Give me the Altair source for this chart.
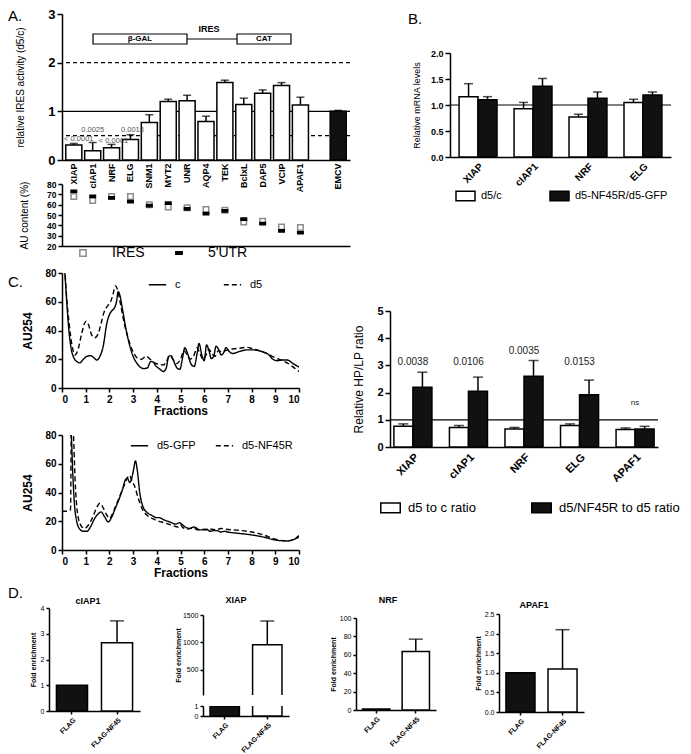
import altair as alt
import pandas as pd

FONT = "Liberation Sans"
BOX = "M-1,-0.5H1V0.5H-1Z"
DASH = "M-1,-0.4H1V0.4H-1Z"

# ---------------- Panel A : relative IRES activity ----------------
genes_a = ["XIAP", "cIAP1", "NRF", "ELG", "SNM1", "MYT2", "UNR", "AQP4", "TEK",
           "BclxL", "DAP5", "VCIP", "APAF1", "EMCV"]
ires_activity = [0.31, 0.19, 0.25, 0.42, 0.77, 1.20, 1.22, 0.79, 1.59, 1.14, 1.37, 1.53, 1.13, 1.00]
ires_err_top = [0.34, 0.36, 0.32, 0.52, 0.93, 1.25, 1.33, 0.90, 1.64, 1.27, 1.44, 1.59, 1.29, 1.02]
pval_genes_a = ["XIAP", "cIAP1", "NRF", "ELG"]
pval_labels_a = ["< 0.0001", "0.0025", "< 0.0001", "0.0018"]
pval_y_a = [0.43, 0.62, 0.40, 0.62]

# ---------------- Panel A : AU content ----------------
au_genes = genes_a[:13]
au_types = ["IRES", "5'UTR"]
au_ires = [68, 64, 68, 68, 60, 57.7, 57, 55.4, 54.5, 43.3, 44, 38.5, 38]
au_utr = [73, 68, 66.6, 63, 59, 61.5, 56, 51.3, 54, 46, 41.7, 34.7, 32.8]

# ---------------- Panel B : relative mRNA levels ----------------
genes_b = ["XIAP", "cIAP1", "NRF", "ELG"]
series_b = ["d5/c", "d5-NF45R/d5-GFP"]
mrna_d5c = [1.16, 0.93, 0.77, 1.05]
mrna_d5c_err = [1.41, 1.05, 0.82, 1.11]
mrna_nf = [1.10, 1.36, 1.13, 1.19]
mrna_nf_err = [1.16, 1.51, 1.25, 1.25]

# ---------------- Panel C : polysome profiles (fraction, AU254) ----------------
series_top = ["c", "d5"]
prof_c = [(0.05, 95), (0.12, 80), (0.2, 60), (0.28, 42), (0.38, 28), (0.5, 21), (0.62, 18.5), (0.75, 17.5),
          (0.9, 20), (1.05, 22), (1.2, 22.5), (1.35, 21), (1.47, 19.5), (1.6, 22), (1.75, 30), (1.88, 44),
          (2.0, 51), (2.12, 54), (2.22, 56), (2.3, 60), (2.37, 67), (2.45, 64), (2.55, 55), (2.7, 41),
          (2.85, 30), (3.0, 22), (3.15, 17.5), (3.3, 14.5), (3.45, 13.5), (3.6, 14), (3.75, 18.5), (3.85, 18),
          (3.95, 15.5), (4.1, 13.5), (4.28, 11.5), (4.4, 14), (4.5, 22), (4.6, 22.5), (4.72, 18.5), (4.85, 14),
          (4.97, 13), (5.1, 22), (5.18, 28), (5.3, 24), (5.45, 16.5), (5.58, 15), (5.7, 24), (5.78, 31),
          (5.9, 23), (6.0, 19), (6.1, 30), (6.2, 26), (6.3, 20.5), (6.4, 22), (6.5, 29), (6.6, 27),
          (6.72, 23), (6.82, 24.5), (6.92, 28), (7.05, 25.5), (7.2, 24), (7.5, 25.5), (7.8, 26.5),
          (8.1, 26.5), (8.4, 25.5), (8.7, 23.5), (8.9, 20), (9.1, 19), (9.3, 19.5), (9.5, 19.5),
          (9.75, 17), (10.0, 14.5)]
prof_d5 = [(0.05, 95), (0.12, 82), (0.2, 62), (0.3, 45), (0.42, 30), (0.55, 23), (0.68, 27), (0.82, 37),
           (0.95, 45), (1.02, 46.5), (1.12, 44), (1.25, 37), (1.38, 35), (1.52, 37.5), (1.65, 45), (1.78, 53),
           (1.92, 57), (2.05, 60), (2.15, 65), (2.25, 71), (2.33, 69), (2.45, 60), (2.6, 47), (2.75, 37),
           (2.9, 29), (3.05, 23.5), (3.2, 20.5), (3.35, 20), (3.55, 22), (3.72, 20), (3.9, 17.5), (4.1, 16.5),
           (4.28, 16), (4.42, 19), (4.55, 22.5), (4.7, 19.5), (4.85, 17), (5.0, 20), (5.15, 26), (5.28, 23),
           (5.4, 20), (5.55, 22), (5.7, 28), (5.82, 24), (5.95, 20), (6.08, 23), (6.2, 27), (6.32, 24),
           (6.45, 22), (6.6, 26), (6.75, 25), (6.9, 26), (7.1, 27), (7.4, 27.5), (7.8, 28.3), (8.1, 27),
           (8.4, 25.5), (8.7, 23.5), (9.0, 21), (9.3, 19), (9.6, 16.5), (9.8, 14), (10.0, 11.5)]
series_bot = ["d5-GFP", "d5-NF45R"]
prof_gfp = [(0.3, 95), (0.38, 85), (0.45, 55), (0.52, 33), (0.62, 20), (0.75, 14.5), (0.9, 13), (1.05, 13),
            (1.2, 16), (1.38, 22), (1.52, 25), (1.65, 26.5), (1.8, 23), (1.95, 19.5), (2.1, 23), (2.25, 29),
            (2.4, 35), (2.55, 42), (2.68, 49), (2.76, 50), (2.85, 47), (2.93, 49), (3.02, 56), (3.1, 62),
            (3.18, 55), (3.28, 40), (3.42, 30), (3.6, 26), (3.8, 24), (4.0, 22.5), (4.1, 22.5), (4.3, 21),
            (4.55, 19.5), (4.8, 18), (4.95, 19), (5.05, 18), (5.2, 16), (5.4, 15), (5.55, 16), (5.65, 15.5),
            (5.8, 14), (5.95, 14), (6.1, 14.5), (6.25, 13), (6.4, 13.5), (6.55, 13.5), (6.7, 12.5),
            (6.85, 13), (7.0, 12.5), (7.5, 11.5), (8.0, 10.5), (8.5, 9), (9.0, 7), (9.5, 6.3), (9.8, 7.5),
            (10.0, 9)]
prof_nf45r = [(0.0, 27), (0.2, 27), (0.36, 28), (0.4, 95), (0.48, 82), (0.55, 50), (0.65, 26), (0.8, 17),
              (0.95, 15), (1.1, 17), (1.3, 23), (1.45, 29), (1.6, 32.5), (1.75, 29), (1.9, 24), (2.0, 22),
              (2.2, 28), (2.4, 36), (2.6, 44), (2.75, 50), (2.85, 52), (2.95, 48), (3.05, 45), (3.2, 37),
              (3.4, 28), (3.6, 24), (3.8, 22), (4.0, 20.5), (4.3, 19), (4.6, 17.5), (4.9, 16), (5.0, 17.5),
              (5.1, 15.5), (5.3, 14.5), (5.55, 15.5), (5.7, 14), (5.9, 14.5), (6.1, 14), (6.3, 14.5),
              (6.5, 14), (6.7, 15), (6.9, 14.5), (7.2, 14), (7.6, 13.5), (8.0, 12.5), (8.5, 10.5), (9.0, 7.5),
              (9.5, 6.3), (9.8, 7.5), (10.0, 10)]

# ---------------- Panel C : relative HP/LP ratio ----------------
genes_c = ["XIAP", "cIAP1", "NRF", "ELG", "APAF1"]
series_c = ["d5 to c ratio", "d5/NF45R to d5 ratio"]
hplp_d5c = [0.76, 0.72, 0.66, 0.79, 0.64]
hplp_d5c_err = [0.85, 0.79, 0.72, 0.85, 0.70]
hplp_nf = [2.20, 2.05, 2.60, 1.92, 0.66]
hplp_nf_err = [2.75, 2.57, 3.18, 2.46, 0.76]
pval_labels_c = ["0.0038", "0.0106", "0.0035", "0.0153", "ns"]
pval_y_c = [3.12, 3.12, 3.53, 3.12, 1.62]

# ---------------- Panel D : fold enrichment ----------------
conds = ["FLAG", "FLAG-NF45"]
d_titles = ["cIAP1", "XIAP", "NRF", "APAF1"]
ciap1_fold = [1.0, 2.65]
ciap1_err = [None, 3.5]
xiap_fold = [1.0, 960.0]
xiap_err = [None, 1390.0]
nrf_fold = [1.0, 63.5]
nrf_err = [None, 77.0]
apaf1_fold = [1.0, 1.1]
apaf1_err = [None, 2.1]

one = pd.DataFrame({"k": [0]})


def indep(c):
    return c.resolve_scale(fill="independent", stroke="independent", shape="independent",
                           strokeDash="independent", xOffset="independent").resolve_legend(
        fill="independent", stroke="independent", shape="independent", strokeDash="independent")


def V(*charts, **kw):
    return indep(alt.vconcat(*charts, **kw))


def H(*charts, **kw):
    return indep(alt.hconcat(*charts, **kw))


def label(txt, x, y, size=15, color="black", weight="normal", align="left", baseline="top"):
    return alt.Chart(one).mark_text(text=txt, fontSize=size, color=color, fontWeight=weight,
                                    align=align, baseline=baseline).encode(x=alt.value(x), y=alt.value(y))


def spacer(w, h, texts=()):
    layers = [alt.Chart(one).mark_point(opacity=0, size=1).encode(x=alt.value(w / 2), y=alt.value(h / 2))]
    layers += list(texts)
    return alt.layer(*layers).properties(width=w, height=h)


# ======================= Panel A top =======================
slot_a = genes_a[:13] + [" "] + genes_a[13:]
band_a = alt.Scale(type="band", domain=slot_a, paddingInner=0.15, paddingOuter=0.2)
xa_axis = alt.Axis(title=None, labelAngle=-90, labelFontSize=9, labelFontWeight="bold", ticks=False,
                   labelPadding=3)
ax_a = alt.Axis(values=[0, 1, 2, 3], title="relative IRES activity (d5/c)", titleFontSize=10,
                titleFontWeight="normal", labelFontSize=13, labelFontWeight="bold", tickSize=5,
                labelPadding=2, titlePadding=22)


def ya(f):
    return alt.Y(f + ":Q", scale=alt.Scale(domain=[0, 3], nice=False), axis=ax_a)


xa = alt.X("gene:N", scale=band_a, axis=xa_axis)
df_a = pd.DataFrame({"gene": genes_a, "value": ires_activity, "err": ires_err_top})
rule1_a = alt.Chart(pd.DataFrame({"value": [1.0]})).mark_rule(color="black", strokeWidth=1.2).encode(y=ya("value"))
rules_dash_a = alt.Chart(pd.DataFrame({"value": [2.0, 0.5]})).mark_rule(
    color="black", strokeWidth=1.2, strokeDash=[4, 3]).encode(y=ya("value"))
bars_a = alt.Chart(df_a).mark_bar(stroke="black", strokeWidth=1.5).encode(
    x=xa, y=ya("value"),
    fill=alt.condition(alt.datum.gene == "EMCV", alt.value("#111"), alt.value("white")))
err_a = alt.Chart(df_a).mark_rule(color="black", strokeWidth=1.5).encode(x=xa, y=ya("value"), y2="err:Q")
cap_a = alt.Chart(df_a).mark_tick(orient="horizontal", color="black", thickness=1.5, size=8).encode(
    x=xa, y=ya("err"))
df_pa = pd.DataFrame({"gene": pval_genes_a, "label": pval_labels_a, "y": pval_y_a})
pv_a = []
for g, dx in [("XIAP", 5), ("cIAP1", 0), ("NRF", 2), ("ELG", 2)]:
    pv_a.append(alt.Chart(df_pa).transform_filter(alt.datum.gene == g).mark_text(
        fontSize=7.5, color="#555", dx=dx).encode(x=xa, y=ya("y"), text="label:N"))


def deco_rect(x1, x2, y1, y2):
    return alt.Chart(one).mark_rect(fill="white", stroke="black", strokeWidth=1.2).encode(
        x=alt.value(x1), x2=alt.value(x2), y=alt.value(y1), y2=alt.value(y2))


schematic = [
    alt.Chart(one).mark_rule(color="black", strokeWidth=1.2).encode(
        x=alt.value(125), x2=alt.value(175), y=alt.value(25)),
    deco_rect(31, 125, 20, 30), deco_rect(175, 229, 20, 30),
    label("β-GAL", 78, 25, size=8, weight="bold", align="center", baseline="middle"),
    label("CAT", 202, 25, size=8, weight="bold", align="center", baseline="middle"),
    label("IRES", 147, 15, size=9, weight="bold", align="center", baseline="middle"),
]
a_top = alt.layer(rule1_a, rules_dash_a, bars_a, err_a, cap_a, *pv_a, *schematic,
                  label("A.", -54, -5)).properties(width=288, height=146)

# ======================= Panel A bottom (AU content) =======================
df_au = pd.DataFrame({"gene": au_genes * 2,
                      "type": [au_types[0]] * len(au_genes) + [au_types[1]] * len(au_genes),
                      "value": au_ires + au_utr})
leg_au = alt.Legend(orient="none", legendX=14, legendY=62, direction="horizontal", title=None,
                    labelFontSize=14, labelOffset=22, columnPadding=27, symbolSize=40,
                    symbolStrokeWidth=1.5)
a_bot = alt.Chart(df_au).mark_point(filled=True, size=30, strokeWidth=1.5, opacity=1).encode(
    x=alt.X("gene:N", scale=band_a, axis=alt.Axis(title=None, labels=False, ticks=False)),
    y=alt.Y("value:Q", scale=alt.Scale(domain=[20, 80], nice=False, zero=False),
            axis=alt.Axis(values=[20, 30, 40, 50, 60, 70, 80], title="AU content (%)", titleFontSize=10,
                          titleFontWeight="normal", labelFontSize=8.5, labelFontWeight="bold", tickSize=4,
                          labelPadding=2, titlePadding=17)),
    shape=alt.Shape("type:N", scale=alt.Scale(domain=au_types, range=["square", DASH]), legend=leg_au),
    fill=alt.Fill("type:N", scale=alt.Scale(domain=au_types, range=["white", "black"]), legend=leg_au),
    stroke=alt.Stroke("type:N", scale=alt.Scale(domain=au_types, range=["#8c8c8c", "black"]), legend=leg_au),
).properties(width=288, height=62)

panel_a = V(a_top, a_bot, spacing=24, bounds="flush")


# ======================= grouped bar helper =======================
def grouped(genes, series, v1, e1, v2, e2, ydom, yvals, yfmt, yaxis_kw, xlab_kw, pin, pout, legend, cap):
    n = len(genes)
    df = pd.DataFrame({"gene": genes * 2, "series": [series[0]] * n + [series[1]] * n,
                       "value": v1 + v2, "err": e1 + e2})
    xs = alt.X("gene:N", scale=alt.Scale(domain=genes, paddingInner=pin, paddingOuter=pout),
               axis=alt.Axis(title=None, labelAngle=-45, ticks=False, **xlab_kw))
    xo = alt.XOffset("series:N", scale=alt.Scale(domain=series, paddingInner=0, paddingOuter=0))
    yax = alt.Axis(values=yvals, format=yfmt, **yaxis_kw)

    def ys(f):
        return alt.Y(f + ":Q", scale=alt.Scale(domain=ydom, nice=False), axis=yax)

    line1 = alt.Chart(pd.DataFrame({"value": [1.0]})).mark_rule(color="black", strokeWidth=1.2).encode(
        y=ys("value"))
    bars = alt.Chart(df).mark_bar(stroke="black", strokeWidth=1.5).encode(
        x=xs, xOffset=xo, y=ys("value"),
        fill=alt.Fill("series:N", scale=alt.Scale(domain=series, range=["white", "#111"]), legend=legend))
    err = alt.Chart(df).mark_rule(color="black", strokeWidth=1.5).encode(
        x=xs, xOffset=xo, y=ys("value"), y2="err:Q")
    caps = alt.Chart(df).mark_tick(orient="horizontal", color="black", thickness=1.5, size=cap).encode(
        x=xs, xOffset=xo, y=ys("err"))
    return xs, ys, [line1, bars, err, caps]


# ======================= Panel B =======================
leg_b = alt.Legend(orient="none", legendX=5, legendY=132, direction="horizontal", title=None,
                   symbolType=BOX, symbolSize=361, symbolStrokeColor="black", symbolStrokeWidth=1.5,
                   labelFontSize=11, labelOffset=5, columnPadding=45)
_, _, b_layers = grouped(
    genes_b, series_b, mrna_d5c, mrna_d5c_err, mrna_nf, mrna_nf_err, [0, 2], [0, 0.5, 1, 1.5, 2], ".1f",
    dict(title="Relative mRNA levels", titleFontSize=9, titleFontWeight="normal", labelFontSize=9,
         labelFontWeight="bold", tickSize=5, labelPadding=2, titlePadding=9),
    dict(labelFontSize=10, labelFontWeight="bold", labelPadding=4), 0.31, 0.165, leg_b, 9)
panel_b = alt.layer(*b_layers).properties(width=221, height=104)
b_wrap = V(spacer(221, 35, [label("B.", -42, -2)]), panel_b, spacing=0)


# ======================= Panel C profiles =======================
def profile(s_names, s1, s2, leg, letter=None):
    df = pd.DataFrame({"x": [p[0] for p in s1] + [p[0] for p in s2],
                       "y": [p[1] for p in s1] + [p[1] for p in s2],
                       "series": [s_names[0]] * len(s1) + [s_names[1]] * len(s2)})
    lines = alt.Chart(df).mark_line(color="black", strokeWidth=1.4, clip=True, interpolate="monotone").encode(
        x=alt.X("x:Q", scale=alt.Scale(domain=[0, 10], nice=False),
                axis=alt.Axis(values=list(range(11)), title="Fractions", titleFontSize=12,
                              titleFontWeight="bold", labelFontSize=10, labelFontWeight="bold", tickSize=4,
                              labelPadding=2, titlePadding=1)),
        y=alt.Y("y:Q", scale=alt.Scale(domain=[0, 80], nice=False),
                axis=alt.Axis(values=[0, 20, 40, 60, 80], title="AU254", titleFontSize=12,
                              titleFontWeight="bold", labelFontSize=10, labelFontWeight="bold", tickSize=4,
                              labelPadding=2, titlePadding=10)),
        strokeDash=alt.StrokeDash("series:N", scale=alt.Scale(domain=s_names, range=[[1, 0], [5, 3]]),
                                  legend=leg))
    layers = [lines]
    if letter:
        layers.append(label(letter, -54, 2))
    return alt.layer(*layers).properties(width=237, height=115)


leg_ctop = alt.Legend(orient="none", legendX=86, legendY=2, direction="horizontal", title=None,
                      symbolType="stroke", symbolStrokeColor="black", symbolStrokeWidth=1.5,
                      symbolSize=300, labelFontSize=11, labelOffset=8, columnPadding=39)
leg_cbot = alt.Legend(orient="none", legendX=68, legendY=1, direction="horizontal", title=None,
                      symbolType="stroke", symbolStrokeColor="black", symbolStrokeWidth=1.5,
                      symbolSize=300, labelFontSize=11, labelOffset=8, columnPadding=16)
c_top = profile(series_top, prof_c, prof_d5, leg_ctop, "C.")
c_bot = profile(series_bot, prof_gfp, prof_nf45r, leg_cbot)
c_left = V(c_top, c_bot, spacing=47, bounds="flush")

# ======================= Panel C HP/LP =======================
leg_c = alt.Legend(orient="none", legendX=-10, legendY=186, direction="horizontal", title=None,
                   symbolType=BOX, symbolSize=380, symbolStrokeColor="black", symbolStrokeWidth=1.5,
                   labelFontSize=13, labelOffset=7, columnPadding=52)
xs_c, ys_c, c_layers = grouped(
    genes_c, series_c, hplp_d5c, hplp_d5c_err, hplp_nf, hplp_nf_err, [0, 5], [0, 1, 2, 3, 4, 5], "d",
    dict(title="Relative HP/LP ratio", titleFontSize=12, titleFontWeight="normal", labelFontSize=11,
         labelFontWeight="bold", tickSize=5, labelPadding=2, titlePadding=11),
    dict(labelFontSize=11, labelFontWeight="bold", labelPadding=4), 0.315, 0.07, leg_c, 10)
df_pc = pd.DataFrame({"gene": genes_c, "label": pval_labels_c, "y": pval_y_c})
pc_num = alt.Chart(df_pc).transform_filter(alt.datum.label != "ns").mark_text(
    fontSize=10, color="#222").encode(x=xs_c, y=ys_c("y"), text="label:N")
pc_ns = alt.Chart(df_pc).transform_filter(alt.datum.label == "ns").mark_text(
    fontSize=8, color="#222").encode(x=xs_c, y=ys_c("y"), text="label:N")
c_right = alt.layer(*c_layers, pc_num, pc_ns).properties(width=268, height=136)
c_right_wrap = V(spacer(268, 32), c_right, spacing=0)


# ======================= Panel D =======================
def d_layers(vals, errs, ydom, yvals, yfmt, show_x=True, ytitle="Fold enrichment", ytpad=3, cap=14,
             xrange=None, yoffset=0):
    df = pd.DataFrame({"cond": conds, "value": vals, "err": errs})
    xaxis = alt.Axis(title=None, labelAngle=-45, labelFontSize=7, labelFontWeight="bold", tickSize=3,
                     labelPadding=2) if show_x else None
    sc_kw = dict(domain=conds, paddingInner=0.31, paddingOuter=0.165)
    if xrange:
        sc_kw["range"] = xrange
    xs = alt.X("cond:N", scale=alt.Scale(**sc_kw), axis=xaxis)
    ax_kw = dict(values=yvals, labelFontSize=7, tickSize=3, labelPadding=2, format=yfmt)
    if yoffset:
        ax_kw["offset"] = yoffset
    if ytitle:
        ax_kw.update(title=ytitle, titleFontSize=7, titleFontWeight="bold", titlePadding=ytpad)
    else:
        ax_kw["title"] = None
    yax = alt.Axis(**ax_kw)

    def ys(f):
        return alt.Y(f + ":Q", scale=alt.Scale(domain=ydom, nice=False, zero=False), axis=yax)

    bars = alt.Chart(df).mark_bar(stroke="black", strokeWidth=1.5, clip=not xrange).encode(
        x=xs, y=ys("value"),
        fill=alt.condition(alt.datum.cond == "FLAG", alt.value("#111"), alt.value("white")))
    e = alt.Chart(df).transform_filter("isValid(datum.err)").mark_rule(
        color="black", strokeWidth=1.5, clip=True).encode(x=xs, y=ys("value"), y2="err:Q")
    c = alt.Chart(df).transform_filter("isValid(datum.err)").mark_tick(
        orient="horizontal", color="black", thickness=1.5, size=cap, clip=True).encode(x=xs, y=ys("err"))
    return [bars, e, c]


def dtitle(t, x, y):
    return label(t, x, y, size=9, weight="bold", align="center", baseline="middle")


d1 = alt.layer(*d_layers(ciap1_fold, ciap1_err, [0, 4], [0, 1, 2, 3, 4], "d", ytpad=4,
                         xrange=[-13, 78], yoffset=13),
               label("D.", -54, -22), dtitle(d_titles[0], 26, -7)).properties(width=78, height=103)
d2_up = alt.layer(*d_layers(xiap_fold, xiap_err, [45, 1500], [500, 1000, 1500], "d", show_x=False,
                            ytpad=1)).properties(width=86, height=80)
d2_low = alt.layer(*d_layers(xiap_fold, xiap_err, [0, 1], [0, 1], "d", ytitle=None)).properties(
    width=86, height=10)
d2 = V(spacer(86, 3, [dtitle(d_titles[1], 33, -8)]), V(d2_up, d2_low, spacing=7), spacing=0)
d3 = V(spacer(80, 6, [dtitle(d_titles[2], 32, -8)]),
       alt.layer(*d_layers(nrf_fold, nrf_err, [0, 100], [0, 20, 40, 60, 80, 100], "d", ytpad=3)).properties(
           width=80, height=92), spacing=0)
d4 = V(spacer(85, 2, [dtitle(d_titles[3], 35, -3)]),
       alt.layer(*d_layers(apaf1_fold, apaf1_err, [0, 2.5], [0, 0.5, 1, 1.5, 2, 2.5], ".1f", ytpad=3)).properties(
           width=85, height=98), spacing=0)

# ======================= assemble =======================
row1 = H(panel_a, b_wrap, spacing=57)
row2 = H(c_left, c_right_wrap, spacing=52)
row3 = H(H(d1, d2, spacing=21), H(d3, d4, spacing=38), spacing=40)

chart = (V(row1, row2, row3, spacing=8)
         .properties(padding=0)
         .configure(font=FONT)
         .configure_axis(labelFont=FONT, titleFont=FONT, domainColor="black", tickColor="black",
                         labelColor="black", titleColor="black", domainWidth=1.5, tickWidth=1.5, grid=False)
         .configure_view(stroke=None)
         .configure_legend(labelFont=FONT, labelColor="black")
         .configure_title(font=FONT, color="black")
         .configure_text(font=FONT))

chart.save("out.html", embed_options={"renderer": "svg", "actions": False})
